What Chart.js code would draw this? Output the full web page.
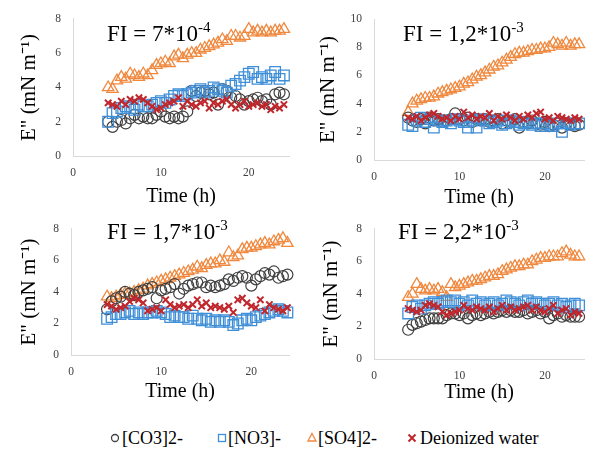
<!DOCTYPE html>
<html>
<head>
<meta charset="utf-8">
<script src="https://cdn.jsdelivr.net/npm/chart.js@4.4.1/dist/chart.umd.min.js"></script>
<style>
  html, body { margin: 0; padding: 0; background: #fff; width: 593px; height: 450px; overflow: hidden; }
  canvas { position: absolute; }
  .fi { position: absolute; font-family: "Liberation Serif", serif; font-size: 23px; line-height: 23px; color: #000; white-space: nowrap; }
  .fi span { font-size: 15px; vertical-align: 9px; }
  .leg { position: absolute; top: 428px; font-family: "Liberation Serif", serif; font-size: 18px; line-height: 20px; color: #000; white-space: nowrap; }
  #legendMarks { position: absolute; left: 0; top: 428px; }
</style>
</head>
<body>
<canvas id="c1" width="298" height="210" style="left:0;top:0"></canvas>
<canvas id="c2" width="293" height="210" style="left:300px;top:0"></canvas>
<canvas id="c3" width="298" height="200" style="left:0;top:210px"></canvas>
<canvas id="c4" width="293" height="200" style="left:300px;top:210px"></canvas>

<div class="fi" style="left:107px;top:16px">FI = 7*10<span>-4</span></div>
<div class="fi" style="left:403px;top:16px">FI = 1,2*10<span>-3</span></div>
<div class="fi" style="left:107px;top:214px">FI = 1,7*10<span>-3</span></div>
<div class="fi" style="left:398px;top:214px">FI = 2,2*10<span>-3</span></div>

<svg id="legendMarks" width="593" height="20">
  <circle cx="115" cy="10" r="3.5" fill="none" stroke="#404040" stroke-width="1.3"/>
  <rect x="218.5" y="6.5" width="7" height="7" fill="none" stroke="#3f8fd8" stroke-width="1.3"/>
  <polygon points="312,5.5 316,13 308,13" fill="none" stroke="#f0883e" stroke-width="1.3"/>
  <path d="M408.5 6.5 L415.5 13.5 M415.5 6.5 L408.5 13.5" stroke="#c0272d" stroke-width="2"/>
</svg>
<div class="leg" style="left:122px">[CO3]2-</div>
<div class="leg" style="left:228px">[NO3]-</div>
<div class="leg" style="left:318px">[SO4]2-</div>
<div class="leg" style="left:420px">Deionized water</div>

<script>
const hours = [4, 4.5, 5, 5.5, 6, 6.5, 7, 7.5, 8, 8.5, 9, 9.5, 10, 10.5, 11, 11.5, 12, 12.5, 13, 13.5,
  14, 14.5, 15, 15.5, 16, 16.5, 17, 17.5, 18, 18.5, 19, 19.5, 20, 20.5, 21, 21.5, 22, 22.5, 23, 23.5, 24];

const seriesNames = ['[CO3]2-', '[NO3]-', '[SO4]2-', 'Deionized water'];

// FI = 7*10^-4
const co3A = [2.0,1.7,2.0,2.1,1.9,2.2,2.4,2.2,2.3,2.2, 2.2,2.4,2.6,2.3,2.2,2.3,2.2,2.3,2.6,3.8, 3.5,3.7,3.8,3.6,3.7,3.0,3.9,3.8,3.4,3.5, 3.3,3.0,3.2,3.3,3.4,3.2,3.3,3.0,3.6,3.7, 3.6];
const no3A = [2.0,2.5,2.6,2.8,2.9,2.8,2.7,3.0,2.9,2.9, 3.0,3.1,3.2,3.1,3.3,3.5,3.6,3.5,3.6,3.7, 3.8,3.9,3.7,3.8,4.0,3.9,3.8,3.7,4.1,4.2, 4.4,4.6,4.8,4.9,4.5,4.6,4.5,4.7,4.9,4.5, 4.7];
const so4A = [4.0,3.9,4.4,4.6,4.5,4.8,4.7,4.6,4.8,4.7, 5.0,5.3,5.4,5.5,5.4,5.8,5.9,5.7,5.9,6.0, 6.0,6.2,6.3,6.4,6.5,6.6,6.8,6.7,7.0,7.0, 6.9,7.0,7.4,7.2,7.3,7.2,7.3,7.2,7.3,7.3, 7.4];
const waterA = [3.1,3.0,2.9,3.2,3.0,3.3,3.2,3.4,3.3,3.1, 2.9,2.7,2.8,3.0,3.1,3.2,3.4,2.9,3.2,3.0, 2.9,3.1,3.2,2.8,3.1,3.0,3.2,3.3,3.0,2.8, 3.0,3.2,2.9,3.0,3.1,2.9,3.0,2.7,2.9,2.8, 3.0];

// FI = 1,2*10^-3
const co3B = [3.0,2.8,2.7,2.9,2.6,3.0,2.8,2.9,2.7,2.8, 2.9,3.3,2.9,2.8,3.0,2.7,2.9,2.8,2.9,2.7, 2.8,2.9,2.6,2.8,2.7,2.9,2.3,2.7,2.6,2.8, 2.6,2.5,2.7,2.4,2.5,2.6,2.3,2.6,2.5,2.4, 2.5];
const no3B = [2.5,2.4,2.8,3.0,2.7,2.9,2.3,2.8,2.7,2.8, 2.6,2.9,2.8,2.7,2.3,2.8,2.3,2.9,2.8,2.6, 2.7,2.8,2.5,2.6,2.8,2.7,2.5,2.6,2.7,2.5, 2.6,2.4,2.6,2.5,2.4,2.6,2.0,2.6,2.5,2.6, 2.6];
const so4B = [3.4,4.0,4.2,4.3,4.4,4.4,4.5,4.7,4.8,4.9, 5.0,5.1,5.2,5.4,5.5,5.7,5.9,6.0,6.2,6.4, 6.6,6.7,6.9,7.1,7.3,7.5,7.6,7.6,7.7,7.8, 7.8,7.9,7.9,8.0,8.3,8.2,8.1,8.3,8.1,8.2, 8.2];
const waterB = [3.0,2.9,3.1,2.8,3.0,3.2,3.3,3.1,2.9,3.0, 2.8,3.1,2.9,3.4,3.0,3.2,2.9,3.1,3.0,3.3, 2.8,3.1,2.9,3.2,3.0,2.8,3.1,2.9,3.2,3.0, 3.3,3.4,2.9,3.0,2.8,3.1,3.0,2.9,2.8,3.0, 2.9];

// FI = 1,7*10^-3
const co3C = [2.9,3.4,3.6,3.7,4.0,3.9,3.8,4.0,4.1,4.2, 4.3,3.6,4.1,4.2,4.3,4.5,3.9,4.2,4.4,4.5, 4.6,4.6,4.3,4.4,4.3,4.4,4.5,4.8,4.7,4.9, 5.0,4.9,4.4,4.8,5.0,5.2,5.1,5.3,4.9,5.0, 5.1];
const no3C = [2.3,2.4,2.6,2.6,2.7,2.8,2.6,2.7,2.6,2.7, 2.7,2.8,2.7,2.6,2.4,2.5,2.4,2.4,2.3,2.5, 2.3,2.2,2.3,2.1,2.2,2.1,2.2,2.1,1.9,2.0, 2.2,2.3,2.2,2.4,2.5,2.6,2.7,2.8,2.9,2.8, 2.7];
const so4C = [3.7,3.6,3.7,3.8,3.9,3.9,4.0,4.1,4.2,4.4, 4.5,4.6,4.7,4.8,4.9,5.0,5.1,5.2,5.3,5.4, 5.6,5.5,5.7,5.8,5.8,6.0,5.9,6.5,6.2,6.3, 6.7,6.8,6.8,6.9,7.0,7.1,7.0,7.2,7.3,7.4, 7.1];
const waterC = [3.2,3.1,2.9,3.0,3.1,3.4,3.6,3.5,3.3,2.8, 2.9,3.0,2.8,3.5,3.2,3.0,3.1,3.2,3.0,3.2, 3.5,3.1,3.3,3.0,3.1,3.0,2.9,3.1,2.7,3.5, 3.6,3.3,3.1,3.0,3.5,2.8,3.2,3.0,2.9,2.8, 3.0];

// FI = 2,2*10^-3
const co3D = [1.8,2.1,2.2,2.3,2.4,2.5,2.5,2.5,2.5,2.7, 2.8,2.8,2.7,2.8,2.5,2.7,2.8,2.7,2.8,2.9, 2.8,2.9,3.0,2.9,3.0,2.9,2.9,3.0,2.8,2.9, 3.0,2.8,2.9,2.5,2.7,2.8,2.6,2.7,2.6,2.6, 2.6];
const no3D = [2.8,3.2,3.3,3.1,3.3,3.4,3.5,3.4,3.5,3.6, 3.5,3.6,3.4,3.5,3.3,3.6,3.4,3.5,3.3,3.4, 3.5,3.3,3.4,3.6,3.5,3.4,3.3,3.5,3.6,3.4, 3.5,3.4,3.3,3.4,3.5,3.3,3.4,3.2,3.3,3.4, 3.3];
const so4D = [3.8,4.0,4.6,4.3,4.2,4.3,4.2,4.3,4.1,3.8, 4.6,4.4,4.5,4.6,4.7,4.8,4.8,4.9,5.0,5.1, 5.1,5.2,5.4,5.5,5.6,5.7,5.7,5.8,5.8,6.0, 6.1,6.2,6.2,6.3,6.3,6.3,6.5,6.6,6.4,6.3, 6.3];
const waterD = [3.1,3.0,2.9,3.0,3.3,3.4,3.3,3.2,2.9,2.7, 2.8,2.9,3.0,3.3,3.1,3.0,3.2,3.1,3.0,3.2, 2.9,3.1,3.3,3.0,3.2,3.0,3.1,3.2,3.3,3.0, 3.2,3.0,2.9,3.1,3.3,2.8,3.0,3.1,2.7,2.9, 2.8];

const xTicksStep = 10;
const yTicksStep = 2;

Chart.defaults.font.family = "'Liberation Serif', serif";
Chart.defaults.font.weight = 'normal';
Chart.defaults.animation = false;

function pts(vals) {
  return vals.map((v, i) => ({ x: hours[i], y: v }));
}

function makePanel(id, co3, no3, so4, water, yMax, xMax, lay) {
  const axisColor = '#d9d9d9';
  new Chart(document.getElementById(id), {
    type: 'scatter',
    data: {
      datasets: [
        { label: seriesNames[3], data: pts(water), pointStyle: 'crossRot', pointRadius: 4.5, borderColor: '#c0272d', borderWidth: 2, clip: false },
        { label: seriesNames[1], data: pts(no3), pointStyle: 'rect', pointRadius: 7.5, borderColor: '#3f8fd8', backgroundColor: 'rgba(0,0,0,0)', borderWidth: 1.3, clip: false },
        { label: seriesNames[0], data: pts(co3), pointStyle: 'circle', pointRadius: 5.5, borderColor: '#404040', backgroundColor: 'rgba(0,0,0,0)', borderWidth: 1.2, clip: false },
        { label: seriesNames[2], data: pts(so4), pointStyle: 'triangle', pointRadius: 6.5, borderColor: '#f0883e', backgroundColor: 'rgba(0,0,0,0)', borderWidth: 1.3, clip: false }
      ]
    },
    options: {
      responsive: false,
      layout: { padding: { left: lay.pl, top: lay.pt, right: lay.pr, bottom: lay.pb } },
      plugins: { legend: { display: false }, tooltip: { enabled: false } },
      scales: {
        x: {
          type: 'linear', min: 0, max: xMax,
          ticks: { stepSize: xTicksStep, includeBounds: false, padding: 10, color: '#404040', font: { size: 11.5 }, maxRotation: 0 },
          grid: { display: true, drawOnChartArea: false, drawTicks: false },
          border: { color: axisColor, width: 1 },
          title: { display: true, text: 'Time (h)', color: '#000', font: { size: 20, weight: 'normal' }, padding: 0 },
          afterFit: s => { s.height = lay.xh; }
        },
        y: {
          min: 0, max: yMax,
          ticks: { stepSize: yTicksStep, padding: 12, color: '#404040', font: { size: 11.5 } },
          grid: { display: true, drawOnChartArea: false, drawTicks: false },
          border: { color: axisColor, width: 1 },
          title: { display: true, text: 'E" (mN m\u207B\u00B9)', color: '#000', font: { size: 21, weight: 'normal' }, padding: 0 },
          afterFit: s => { s.width = lay.yw; }
        }
      }
    }
  });
}

makePanel('c1', co3A, no3A, so4A, waterA, 8, 24.6, { pl: 17, pt: 18, pr: 5, pb: 1, yw: 56, xh: 53 });
makePanel('c2', co3B, no3B, so4B, waterB, 10, 24.6, { pl: 16, pt: 19, pr: 0, pb: 0, yw: 58, xh: 50 });
makePanel('c3', co3C, no3C, so4C, waterC, 8, 24.2, { pl: 17, pt: 13, pr: 5, pb: 6, yw: 54, xh: 49 });
makePanel('c4', co3D, no3D, so4D, waterD, 8, 24.6, { pl: 19, pt: 7, pr: 0, pb: 5, yw: 55, xh: 46 });
</script>
</body>
</html>
